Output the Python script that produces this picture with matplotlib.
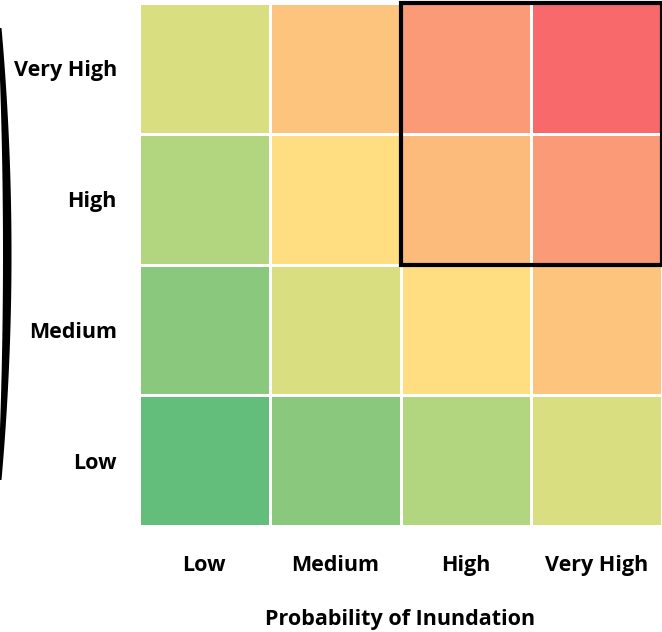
import numpy as np
import matplotlib.pyplot as plt
from matplotlib.colors import LinearSegmentedColormap
from matplotlib.patches import Rectangle, Polygon

levels = ['Low', 'Medium', 'High', 'Very High']
probability = [1, 2, 3, 4]     # columns, left to right
consequence = [1, 2, 3, 4]     # rows, bottom to top
risk = np.outer(consequence, probability)

# colour stops of the risk scale (value -> colour)
stop_vals = [1, 2, 3, 4, 6, 8, 9, 12, 16]
stop_cols = ['#63BE7B', '#8AC97D', '#B2D67F', '#D9DF81', '#FFDD81',
             '#FDC47D', '#FCBB7B', '#FA9A76', '#F8696B']

plt.rcParams['font.family'] = ['Open Sans', 'DejaVu Sans']

cmap = LinearSegmentedColormap.from_list(
    'risk', [((v - 1) / 15, c) for v, c in zip(stop_vals, stop_cols)])

fig = plt.figure(figsize=(6.62, 6.32), dpi=100)
W, H = 662, 632
ax = fig.add_axes([139 / W, 106 / H, 523 / W, 523 / H])

ax.pcolormesh(np.arange(5), np.arange(5), risk, cmap=cmap, vmin=1, vmax=16,
              edgecolors='white', linewidth=1.8)

# highlight the high-risk quadrant
ax.add_patch(Rectangle((2, 2), 2, 2, fill=False, edgecolor='black',
                       linewidth=3, clip_on=False, zorder=5))

ax.set_xlim(0, 4)
ax.set_ylim(0, 4)
ax.set_xticks(np.arange(4) + 0.5)
ax.set_xticklabels(levels, fontsize=15.5, fontweight='bold')
ax.set_yticks(np.arange(4) + 0.5)
ax.set_yticklabels(levels, fontsize=15.5, fontweight='bold')
ax.tick_params(length=0)
ax.tick_params(axis='x', pad=21)
ax.tick_params(axis='y', pad=16)
for s in ax.spines.values():
    s.set_visible(False)
ax.set_xlabel('Probability of Inundation', fontsize=15.5, fontweight='bold',
              labelpad=24)

# bracket on the far left (cut off in the original)
t = np.linspace(-1, 1, 200)
yy = 254 + 226 * t
right = 1.5 + 10 * (1 - t ** 2)
left = -2 + 5 * (1 - t ** 2)
pts = np.concatenate([np.column_stack([right, H - yy]),
                      np.column_stack([left, H - yy])[::-1]])
fig.patches.append(Polygon(pts / [W, H], closed=True, facecolor='black',
                           edgecolor='none', transform=fig.transFigure))

fig.savefig('out.png', dpi=100)
